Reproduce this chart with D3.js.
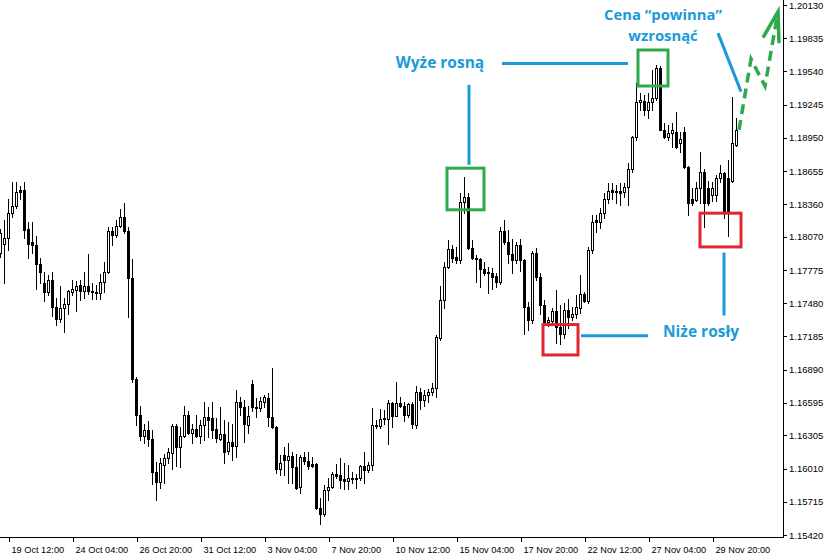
<!DOCTYPE html>
<html>
<head>
<meta charset="utf-8">
<script src="https://cdn.jsdelivr.net/npm/d3@7"></script>
<style>
  body { margin: 0; background: #fff; }
  svg { display: block; }
</style>
</head>
<body>
<svg></svg>
<script>
// H4 candles, bar 0 = 19 Oct 04:00
const opens = [1.1793,1.1801,1.1806,1.1828,1.1834,1.1849,1.1849,1.1814,1.1802,1.1800,
  1.1783,1.1766,1.1758,1.1769,1.1745,1.1734,1.1744,1.1747,1.1758,1.1760,
  1.1764,1.1759,1.1763,1.1759,1.1758,1.1757,1.1767,1.1776,1.1812,1.1809,
  1.1817,1.1825,1.1812,1.1770,1.1681,1.1649,1.1630,1.1635,1.1627,1.1598,
  1.1589,1.1604,1.1610,1.1615,1.1639,1.1620,1.1630,1.1649,1.1633,1.1636,
  1.1630,1.1640,1.1647,1.1646,1.1636,1.1627,1.1632,1.1617,1.1625,1.1621,
  1.1660,1.1656,1.1640,1.1676,1.1656,1.1655,1.1660,1.1664,1.1647,1.1638,
  1.1601,1.1613,1.1609,1.1612,1.1602,1.1585,1.1611,1.1608,1.1605,1.1605,
  1.1566,1.1561,1.1582,1.1585,1.1596,1.1595,1.1592,1.1590,1.1593,1.1592,
  1.1593,1.1603,1.1600,1.1604,1.1640,1.1639,1.1646,1.1645,1.1659,1.1648,
  1.1659,1.1657,1.1649,1.1658,1.1640,1.1669,1.1662,1.1666,1.1669,1.1673,
  1.1717,1.1751,1.1780,1.1796,1.1789,1.1786,1.1838,1.1842,1.1797,1.1788,
  1.1787,1.1778,1.1776,1.1775,1.1772,1.1767,1.1812,1.1802,1.1792,1.1786,
  1.1800,1.1786,1.1745,1.1733,1.1793,1.1771,1.1746,1.1731,1.1732,1.1741,
  1.1727,1.1721,1.1742,1.1736,1.1738,1.1744,1.1756,1.1750,1.1795,1.1822,
  1.1820,1.1828,1.1841,1.1849,1.1848,1.1848,1.1847,1.1851,1.1867,1.1896,
  1.1927,1.1928,1.1920,1.1927,1.1930,1.1957,1.1902,1.1896,1.1899,1.1900,
  1.1890,1.1900,1.1869,1.1841,1.1840,1.1850,1.1865,1.1850,1.1844,1.1844,
  1.1859,1.1864,1.1859,1.1857,1.1889];
const highs = [1.1814,1.1822,1.1841,1.1856,1.1856,1.1852,1.1856,1.1820,1.1820,1.1808,
  1.1788,1.1776,1.1773,1.1776,1.1753,1.1763,1.1753,1.1760,1.1769,1.1768,
  1.1769,1.1776,1.1792,1.1766,1.1764,1.1774,1.1785,1.1816,1.1816,1.1822,
  1.1832,1.1837,1.1816,1.1787,1.1682,1.1657,1.1641,1.1643,1.1635,1.1607,
  1.1610,1.1614,1.1619,1.1641,1.1641,1.1638,1.1657,1.1652,1.1641,1.1649,
  1.1644,1.1660,1.1656,1.1660,1.1646,1.1656,1.1644,1.1642,1.1641,1.1671,
  1.1665,1.1662,1.1657,1.1680,1.1664,1.1665,1.1666,1.1668,1.1690,1.1639,
  1.1613,1.1620,1.1624,1.1616,1.1614,1.1613,1.1616,1.1616,1.1611,1.1606,
  1.1575,1.1586,1.1593,1.1598,1.1605,1.1610,1.1606,1.1604,1.1598,1.1596,
  1.1604,1.1616,1.1607,1.1655,1.1644,1.1654,1.1653,1.1662,1.1660,1.1678,
  1.1665,1.1660,1.1659,1.1660,1.1674,1.1673,1.1671,1.1672,1.1677,1.1720,
  1.1763,1.1785,1.1804,1.1800,1.1798,1.1846,1.1860,1.1846,1.1804,1.1791,
  1.1788,1.1785,1.1780,1.1779,1.1775,1.1816,1.1822,1.1813,1.1805,1.1802,
  1.1805,1.1787,1.1749,1.1794,1.1797,1.1775,1.1751,1.1736,1.1744,1.1760,
  1.1746,1.1748,1.1752,1.1745,1.1755,1.1773,1.1758,1.1798,1.1826,1.1826,
  1.1833,1.1846,1.1855,1.1855,1.1853,1.1855,1.1855,1.1873,1.1897,1.1944,
  1.1935,1.1933,1.1935,1.1955,1.1960,1.1959,1.1908,1.1906,1.1908,1.1918,
  1.1900,1.1905,1.1870,1.1850,1.1856,1.1882,1.1867,1.1857,1.1856,1.1862,
  1.1871,1.1865,1.1875,1.1931,1.1913];
const lows = [1.1789,1.1766,1.1795,1.1825,1.1833,1.1841,1.1806,1.1788,1.1793,1.1761,
  1.1766,1.1750,1.1755,1.1737,1.1729,1.1731,1.1722,1.1738,1.1755,1.1741,
  1.1751,1.1753,1.1756,1.1752,1.1752,1.1752,1.1758,1.1775,1.1800,1.1807,
  1.1816,1.1810,1.1736,1.1678,1.1640,1.1626,1.1624,1.1621,1.1587,1.1573,
  1.1584,1.1588,1.1606,1.1601,1.1603,1.1602,1.1629,1.1632,1.1624,1.1629,
  1.1624,1.1626,1.1629,1.1628,1.1625,1.1626,1.1606,1.1614,1.1609,1.1611,
  1.1649,1.1625,1.1633,1.1652,1.1647,1.1652,1.1656,1.1639,1.1637,1.1597,
  1.1595,1.1595,1.1588,1.1588,1.1583,1.1579,1.1605,1.1601,1.1602,1.1565,
  1.1552,1.1559,1.1573,1.1584,1.1593,1.1584,1.1583,1.1583,1.1588,1.1584,
  1.1591,1.1588,1.1598,1.1600,1.1637,1.1637,1.1641,1.1623,1.1638,1.1648,
  1.1656,1.1643,1.1647,1.1637,1.1637,1.1654,1.1657,1.1660,1.1666,1.1665,
  1.1715,1.1744,1.1779,1.1785,1.1784,1.1784,1.1828,1.1796,1.1787,1.1767,
  1.1762,1.1773,1.1757,1.1761,1.1762,1.1765,1.1801,1.1784,1.1775,1.1784,
  1.1777,1.1721,1.1724,1.1730,1.1769,1.1738,1.1730,1.1728,1.1730,1.1713,
  1.1712,1.1717,1.1726,1.1733,1.1735,1.1739,1.1749,1.1748,1.1793,1.1811,
  1.1815,1.1824,1.1837,1.1841,1.1837,1.1835,1.1842,1.1835,1.1865,1.1893,
  1.1920,1.1915,1.1913,1.1920,1.1929,1.1902,1.1895,1.1893,1.1887,1.1886,
  1.1882,1.1868,1.1826,1.1835,1.1839,1.1837,1.1816,1.1835,1.1839,1.1839,
  1.1856,1.1824,1.1808,1.1856,1.1888];
const closes = [1.1810,1.1806,1.1828,1.1834,1.1847,1.1847,1.1813,1.1801,1.1800,1.1783,
  1.1776,1.1758,1.1769,1.1745,1.1734,1.1744,1.1747,1.1759,1.1761,1.1763,
  1.1759,1.1763,1.1759,1.1758,1.1757,1.1767,1.1776,1.1812,1.1809,1.1817,
  1.1825,1.1812,1.1770,1.1681,1.1649,1.1630,1.1635,1.1627,1.1598,1.1589,
  1.1606,1.1610,1.1616,1.1639,1.1620,1.1630,1.1649,1.1633,1.1636,1.1630,
  1.1640,1.1647,1.1644,1.1635,1.1628,1.1632,1.1616,1.1625,1.1621,1.1660,
  1.1656,1.1641,1.1648,1.1656,1.1655,1.1661,1.1665,1.1647,1.1638,1.1601,
  1.1606,1.1609,1.1612,1.1602,1.1584,1.1611,1.1608,1.1603,1.1603,1.1566,
  1.1561,1.1582,1.1585,1.1596,1.1594,1.1591,1.1590,1.1593,1.1592,1.1593,
  1.1603,1.1600,1.1604,1.1640,1.1639,1.1645,1.1645,1.1659,1.1648,1.1659,
  1.1657,1.1649,1.1658,1.1641,1.1669,1.1662,1.1666,1.1669,1.1673,1.1718,
  1.1751,1.1780,1.1796,1.1788,1.1786,1.1838,1.1842,1.1797,1.1788,1.1787,
  1.1778,1.1775,1.1775,1.1771,1.1767,1.1812,1.1802,1.1792,1.1786,1.1800,
  1.1786,1.1745,1.1733,1.1793,1.1771,1.1746,1.1731,1.1733,1.1741,1.1727,
  1.1721,1.1742,1.1736,1.1738,1.1745,1.1756,1.1750,1.1795,1.1820,1.1820,
  1.1828,1.1841,1.1848,1.1847,1.1847,1.1846,1.1851,1.1867,1.1896,1.1927,
  1.1929,1.1920,1.1927,1.1930,1.1957,1.1902,1.1896,1.1899,1.1902,1.1887,
  1.1894,1.1869,1.1837,1.1837,1.1850,1.1865,1.1837,1.1837,1.1850,1.1859,
  1.1864,1.1828,1.1828,1.1890,1.1902];

const timeLabels = ["19 Oct 12:00", "24 Oct 04:00", "26 Oct 20:00", "31 Oct 12:00",
  "3 Nov 04:00", "7 Nov 20:00", "10 Nov 12:00", "15 Nov 04:00", "17 Nov 20:00",
  "22 Nov 12:00", "27 Nov 04:00", "29 Nov 20:00"];
const timeBars = [2, 18, 34, 50, 66, 82, 98, 114, 130, 146, 162, 178];
const priceTicks = [1.20130, 1.19835, 1.19540, 1.19245, 1.18950, 1.18655, 1.18360,
  1.18070, 1.17775, 1.17480, 1.17185, 1.16890, 1.16595, 1.16305, 1.16010, 1.15715, 1.15420];

// annotations, in bar index / price units
const greenBoxes = [[111.75, 121, 1.1868, 1.1831], [159.5, 167, 1.1973, 1.1941]];
const redBoxes = [[135.75, 144.5, 1.1729, 1.1702], [175, 185.25, 1.1828, 1.1798]];
const blueLines = [
  [[125.5, 1.1961], [157, 1.1961]],
  [[117.25, 1.1942], [117.25, 1.1871]],
  [[145.25, 1.1719], [162, 1.1719]],
  [[181, 1.1793], [181, 1.1737]],
  [[179.5, 1.1988], [185.25, 1.1936]]
];
const arrowPath = [[184.75, 1.1902], [187.75, 1.1965], [191.25, 1.1941], [194.5, 1.2007]];
const arrowHead = [[190.75, 1.1984], [194.5, 1.2007], [194.75, 1.1979]];
const notes = [
  ["Wyże rosną", 110, 1.1962, 15.5],
  ["Niże rosły", 175.25, 1.1723, 15.5],
  ["Cena \u201Cpowinna\u201D", 165.75, 1.2004, 14.8],
  ["wzrosnąć", 165.75, 1.1986, 14.8]
];

const width = 825, height = 555;
const plotRight = 783, plotBottom = 537;
const blue = "#1b9ad8", green = "#2eaa4c", red = "#e0262f";

const svg = d3.select("svg").attr("width", width).attr("height", height);

const x = d3.scaleLinear().domain([0, 195.75]).range([0, plotRight]);
const y = d3.scaleLinear().domain([1.15420, 1.20130]).range([535, 5]);

const candles = d3.range(opens.length).map(i => ({
  i, o: opens[i], h: highs[i], l: lows[i], c: closes[i]
}));

const g = svg.append("g").attr("shape-rendering", "crispEdges");

g.selectAll("line.wick").data(candles).enter().append("line")
  .attr("class", "wick")
  .attr("x1", d => Math.round(x(d.i)) + 0.5)
  .attr("x2", d => Math.round(x(d.i)) + 0.5)
  .attr("y1", d => Math.round(y(d.h)))
  .attr("y2", d => Math.round(y(d.l)) + 1)
  .attr("stroke", "#000");

g.selectAll("rect.body").data(candles).enter().append("rect")
  .attr("class", "body")
  .attr("x", d => Math.round(x(d.i)) - 0.5)
  .attr("y", d => Math.round(y(Math.max(d.o, d.c))) + 0.5)
  .attr("width", 2)
  .attr("height", d => Math.max(0, Math.round(y(Math.min(d.o, d.c))) - Math.round(y(Math.max(d.o, d.c)))))
  .attr("fill", d => d.c >= d.o ? "#fff" : "#000")
  .attr("stroke", "#000");

// axes
const yAxis = svg.append("g")
  .attr("transform", `translate(${plotRight},0)`)
  .call(d3.axisRight(y).tickValues(priceTicks).tickFormat(d3.format(".5f")).tickSize(4).tickPadding(2))
  .call(a => a.select(".domain").remove());
yAxis.selectAll("text").attr("font-family", "Liberation Sans, Arial, sans-serif").attr("font-size", 9.5).attr("fill", "#000");
yAxis.selectAll("line").attr("stroke", "#000").attr("shape-rendering", "crispEdges");

const xAxis = svg.append("g")
  .attr("transform", `translate(0,${plotBottom})`)
  .call(d3.axisBottom(x).tickValues(timeBars).tickFormat((d, i) => timeLabels[i]).tickSize(5).tickPadding(4))
  .call(a => a.select(".domain").remove());
xAxis.selectAll("line").attr("stroke", "#000").attr("shape-rendering", "crispEdges")
  .attr("transform", "translate(0.5,0)");
xAxis.selectAll("text").attr("text-anchor", "start").attr("dx", 3)
  .attr("font-family", "Liberation Sans, Arial, sans-serif").attr("font-size", 9.2).attr("fill", "#000");

svg.append("line").attr("x1", plotRight + 0.5).attr("x2", plotRight + 0.5).attr("y1", 0).attr("y2", plotBottom + 1)
  .attr("stroke", "#000").attr("shape-rendering", "crispEdges");
svg.append("line").attr("x1", 0).attr("x2", plotRight + 1).attr("y1", plotBottom + 0.5).attr("y2", plotBottom + 0.5)
  .attr("stroke", "#000").attr("shape-rendering", "crispEdges");

// annotations
const ann = svg.append("g");
const line = d3.line().x(d => x(d[0])).y(d => y(d[1]));

ann.selectAll("rect.gbox").data(greenBoxes).enter().append("rect")
  .attr("x", d => x(d[0])).attr("y", d => y(d[2]))
  .attr("width", d => x(d[1]) - x(d[0])).attr("height", d => y(d[3]) - y(d[2]))
  .attr("fill", "none").attr("stroke", green).attr("stroke-width", 3);

ann.selectAll("rect.rbox").data(redBoxes).enter().append("rect")
  .attr("x", d => x(d[0])).attr("y", d => y(d[2]))
  .attr("width", d => x(d[1]) - x(d[0])).attr("height", d => y(d[3]) - y(d[2]))
  .attr("fill", "none").attr("stroke", red).attr("stroke-width", 3);

ann.selectAll("path.bl").data(blueLines).enter().append("path")
  .attr("d", line).attr("fill", "none").attr("stroke", blue).attr("stroke-width", 3);

ann.append("path").attr("d", line(arrowPath))
  .attr("fill", "none").attr("stroke", green).attr("stroke-width", 3.5)
  .attr("stroke-dasharray", "10,6").attr("stroke-linejoin", "miter");
ann.append("path").attr("d", line(arrowHead))
  .attr("fill", "none").attr("stroke", green).attr("stroke-width", 3.5).attr("stroke-linejoin", "miter");

ann.selectAll("text").data(notes).enter().append("text")
  .attr("x", d => x(d[1])).attr("y", d => y(d[2]))
  .attr("dy", "0.35em")
  .attr("text-anchor", "middle")
  .attr("font-family", "Open Sans, sans-serif")
  .attr("font-weight", 700)
  .attr("font-size", d => d[3])
  .attr("fill", blue)
  .text(d => d[0]);
</script>
</body>
</html>
